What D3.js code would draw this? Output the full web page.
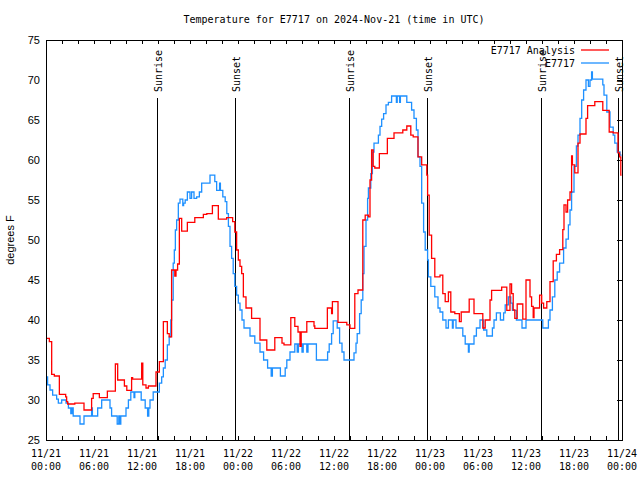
<!DOCTYPE html>
<html>
<head>
<meta charset="utf-8">
<script src="https://cdn.jsdelivr.net/npm/d3@7"></script>
<style>
  body { margin: 0; background: #fff; }
  svg { display: block; }
  .mono { font-family: "DejaVu Sans Mono", monospace; font-size: 10px; }
  .sans { font-family: "Liberation Sans", Arial, sans-serif; font-size: 11px; }
</style>
</head>
<body>
<svg id="chart" width="640" height="480"></svg>
<script>
// Hours since 2024-11-21 00:00 UTC, step points
const analysisHours = [0, 0.42, 0.71, 1.04, 1.67, 2.46, 2.58, 2.71, 3.6, 4.75, 5.7, 5.9, 6.67, 7.67, 8.67, 8.96, 9.8, 10.1, 10.7, 10.83, 11.96, 12.1, 12.5, 12.8, 13.75, 14.17, 14.67, 15.17, 15.4, 15.7, 16.1, 16.25, 16.45, 16.67, 16.96, 17.67, 18.6, 19.67, 20.1, 20.8, 21.54, 22.58, 23.33, 23.6, 23.83, 24.04, 24.25, 24.46, 24.67, 25.0, 25.7, 26.75, 27.6, 28.6, 29.5, 29.75, 30.6, 31.1, 31.5, 31.75, 31.9, 32.6, 33.5, 33.6, 35.17, 35.7, 35.8, 36.5, 37.6, 38.0, 38.6, 39.0, 39.6, 39.9, 40.3, 40.5, 40.7, 40.9, 41.1, 41.67, 42.67, 43.5, 44.6, 45.1, 45.6, 45.9, 46.5, 46.96, 47.6, 47.7, 47.9, 48.2, 48.6, 49.25, 49.6, 49.9, 50.3, 50.6, 51.1, 51.67, 51.9, 52.9, 53.5, 54.6, 54.9, 55.5, 55.7, 56.96, 57.6, 58.0, 58.2, 58.4, 58.6, 58.9, 59.6, 60.0, 60.5, 60.7, 60.9, 61.0, 61.7, 61.96, 62.2, 62.6, 63.0, 63.4, 63.8, 64.2, 64.6, 64.75, 65.0, 65.2, 65.5, 65.7, 65.8, 66.1, 66.5, 66.75, 67.5, 67.7, 68.6, 69.6, 70.4, 70.9, 71.5, 71.7, 71.85, 71.95];
const analysisTemps = [37.7, 37.3, 33.2, 33.0, 30.7, 30.4, 29.8, 29.5, 29.6, 28.75, 30.2, 30.8, 30.3, 31.1, 34.5, 32.5, 31.75, 31.2, 32.8, 32.6, 34.6, 31.9, 31.5, 31.75, 33.5, 34.8, 39.8, 38.3, 37.9, 46.25, 45.5, 46.25, 47, 52.7, 51.1, 52.2, 52.8, 53.2, 53.3, 54.3, 52.6, 52.8, 52.3, 51.0, 48.75, 47.5, 46.7, 45.8, 42.9, 41.5, 40.2, 37.5, 36.25, 37.8, 37.1, 36.9, 40.3, 39.2, 38.5, 36.7, 38.5, 39.8, 39.25, 38.95, 41.5, 40.8, 42.3, 39.7, 39.4, 38.95, 43.3, 43.75, 52.5, 53.1, 52.9, 57.5, 61.25, 59.2, 59.0, 60.8, 62.7, 63.4, 63.75, 64.25, 63.1, 62.9, 60.4, 59.4, 58.1, 55.6, 50.6, 47.7, 45.4, 45.6, 43.3, 42.3, 43.5, 41.0, 40.8, 39.8, 41.0, 42.6, 40.8, 39.0, 40.0, 42.5, 43.7, 44.1, 41.2, 44.5, 43.3, 41.25, 40.2, 42.0, 40.1, 45.0, 42.9, 41.7, 40.3, 41.5, 43.1, 42.1, 41.5, 42.3, 44.8, 47.4, 48.2, 48.8, 51.3, 54.4, 53.5, 55.0, 56.0, 60.5, 59.4, 58.4, 62.1, 63.25, 65.2, 66.8, 67.3, 66.2, 63.5, 63.4, 60.9, 60.4, 58.1, 58.1];

const obsHours = [0, 0.2, 0.5, 0.83, 1.33, 1.54, 1.96, 2.5, 2.8, 3.1, 3.25, 3.4, 4.25, 4.75, 5.7, 5.8, 6.46, 6.96, 8.0, 8.2, 8.9, 9.1, 9.2, 9.35, 10.0, 10.3, 10.6, 11.0, 11.1, 11.9, 12.4, 12.7, 12.85, 13.0, 13.4, 14.17, 14.46, 14.67, 14.9, 15.17, 15.4, 15.6, 15.7, 15.9, 16.04, 16.17, 16.33, 16.54, 16.75, 17.1, 17.2, 17.4, 17.67, 18.0, 18.2, 18.5, 18.83, 19.17, 19.46, 20.5, 21.1, 21.33, 21.7, 21.8, 22.1, 22.4, 22.6, 22.8, 23.0, 23.2, 23.4, 23.6, 23.83, 24.04, 24.25, 24.5, 24.75, 25.5, 26.1, 26.75, 27.2, 27.7, 28.15, 28.3, 29.3, 29.9, 30.1, 30.5, 31.1, 31.4, 31.55, 32.0, 32.15, 32.6, 32.75, 33.8, 35.2, 35.4, 35.7, 35.9, 36.4, 36.7, 37.0, 37.25, 38.5, 38.75, 38.9, 39.2, 39.4, 39.6, 39.75, 40.0, 40.2, 40.3, 40.6, 40.8, 41.0, 41.55, 41.75, 41.96, 42.2, 42.5, 42.8, 43.2, 43.8, 43.9, 44.2, 44.3, 45.1, 45.7, 46.0, 46.3, 46.5, 46.75, 46.96, 47.2, 47.4, 47.7, 47.8, 48.1, 48.6, 49.0, 49.25, 49.6, 50.0, 50.3, 50.8, 50.9, 51.25, 52.1, 52.4, 52.8, 52.9, 53.5, 53.8, 54.25, 54.7, 55.1, 55.8, 56.0, 56.3, 56.8, 57.2, 57.4, 57.8, 58.1, 58.3, 58.8, 59.5, 60.0, 62.1, 62.8, 63.0, 63.3, 63.6, 63.9, 64.2, 64.7, 65.0, 65.3, 65.5, 65.7, 66.0, 66.3, 66.5, 66.75, 66.96, 67.2, 67.5, 67.8, 68.0, 68.2, 68.3, 69.6, 69.75, 70.1, 70.5, 70.9, 71.1, 71.4, 71.75, 71.95];
const obsTemps = [32.9, 31.9, 31.25, 30.6, 30.1, 29.6, 30.0, 29.6, 29.0, 28.3, 29.0, 28.0, 27.0, 28.0, 29.0, 28.0, 29.0, 30.0, 29.0, 28.0, 27.0, 28.0, 27.0, 28.0, 29.0, 30.0, 31.0, 30.3, 31.0, 30.0, 29.0, 28.0, 29.0, 30.0, 31.0, 32.1, 32.9, 34.0, 35.0, 36.9, 37.9, 40.0, 42.5, 47.1, 48.75, 51.25, 52.5, 54.6, 55.1, 54.3, 54.6, 55.0, 56.0, 55.2, 56.0, 55.2, 55.4, 56.0, 57.1, 58.1, 57.3, 56.2, 57.1, 56.2, 55.4, 54.8, 53.3, 51.7, 49.2, 47.7, 45.8, 44.2, 43.1, 42.1, 41.25, 40.0, 39.0, 38.0, 37.1, 36.0, 35.0, 34.0, 33.0, 34.0, 33.0, 34.0, 35.0, 36.0, 37.0, 36.0, 37.0, 36.0, 37.0, 36.0, 37.0, 35.0, 36.0, 37.0, 38.3, 39.9, 39.0, 37.1, 36.0, 35.0, 35.9, 37.1, 38.3, 40.8, 42.5, 45.8, 49.2, 52.5, 55.2, 56.5, 58.3, 61.0, 62.1, 63.1, 64.2, 65.1, 65.8, 66.9, 67.2, 68.0, 67.2, 68.0, 67.2, 68.0, 67.2, 66.25, 65.2, 63.75, 60.4, 59.2, 54.6, 51.0, 48.75, 47.5, 45.4, 44.2, 42.9, 41.5, 41.0, 40.0, 39.0, 40.0, 39.0, 40.0, 39.0, 38.0, 37.0, 36.0, 37.0, 38.0, 39.0, 40.0, 38.75, 38.0, 39.0, 40.0, 40.9, 40.0, 40.9, 41.9, 42.9, 42.1, 41.2, 40.0, 39.0, 40.0, 39.0, 40.0, 41.25, 42.9, 45.0, 46.0, 47.1, 49.0, 50.1, 51.9, 53.75, 56.0, 59.2, 61.75, 63.1, 65.2, 67.5, 68.75, 70.0, 69.2, 70.0, 71.0, 70.1, 69.4, 68.1, 66.0, 64.1, 63.1, 62.1, 61.0, 60.6, 60.6];

const sunriseHours = [13.875, 37.875, 61.875];
const sunsetHours = [23.625, 47.625, 71.5];

const xTickDays = ['11/21', '11/21', '11/21', '11/21', '11/22', '11/22', '11/22', '11/22', '11/23', '11/23', '11/23', '11/23', '11/24'];
const xTickTimes = ['00:00', '06:00', '12:00', '18:00', '00:00', '06:00', '12:00', '18:00', '00:00', '06:00', '12:00', '18:00', '00:00'];
const yTicks = [25, 30, 35, 40, 45, 50, 55, 60, 65, 70, 75];

const svg = d3.select('#chart');
const plotLeft = 46, plotRight = 622, plotTop = 40, plotBottom = 440;

const x = d3.scaleLinear().domain([0, 72]).range([plotLeft, plotRight]);
const y = d3.scaleLinear().domain([25, 75]).range([plotBottom, plotTop]);

// Title
svg.append('text')
    .attr('class', 'mono')
    .attr('x', 334).attr('y', 23)
    .attr('text-anchor', 'middle')
    .text('Temperature for E7717 on 2024-Nov-21 (time in UTC)');

// Y axis label
svg.append('text')
    .attr('class', 'sans')
    .attr('transform', 'translate(14,240) rotate(-90)')
    .attr('text-anchor', 'middle')
    .text('degrees F');

// Y tick labels
svg.append('g').selectAll('text')
    .data(yTicks)
    .join('text')
    .attr('class', 'sans')
    .attr('x', 40)
    .attr('y', d => y(d) + 4)
    .attr('text-anchor', 'end')
    .text(d => d);

// Y ticks on the right edge
svg.append('g').selectAll('line')
    .data(yTicks)
    .join('line')
    .attr('x1', plotRight - 5).attr('x2', plotRight)
    .attr('y1', d => Math.round(y(d)) + 0.5)
    .attr('y2', d => Math.round(y(d)) + 0.5)
    .attr('stroke', '#000');

// X ticks every 2 hours, top and bottom
const xTickHours = d3.range(0, 73, 2);
const tg = svg.append('g').attr('stroke', '#000');
tg.selectAll('line.b')
    .data(xTickHours)
    .join('line')
    .attr('class', 'b')
    .attr('x1', d => Math.round(x(d)) + 0.5).attr('x2', d => Math.round(x(d)) + 0.5)
    .attr('y1', plotBottom - 4).attr('y2', plotBottom);
tg.selectAll('line.t')
    .data(xTickHours)
    .join('line')
    .attr('class', 't')
    .attr('x1', d => Math.round(x(d)) + 0.5).attr('x2', d => Math.round(x(d)) + 0.5)
    .attr('y1', plotTop).attr('y2', plotTop + 4);

// X tick labels
const xl = svg.append('g').selectAll('g')
    .data(xTickDays.map((d, i) => ({ day: d, time: xTickTimes[i], h: i * 6 })))
    .join('g');
xl.append('text')
    .attr('class', 'mono')
    .attr('x', d => x(d.h)).attr('y', 457)
    .attr('text-anchor', 'middle')
    .text(d => d.day);
xl.append('text')
    .attr('class', 'mono')
    .attr('x', d => x(d.h)).attr('y', 470)
    .attr('text-anchor', 'middle')
    .text(d => d.time);

// Sunrise / sunset markers
const sun = sunriseHours.map(h => ({ h, label: 'Sunrise' }))
    .concat(sunsetHours.map(h => ({ h, label: 'Sunset' })));
const sg = svg.append('g').selectAll('g').data(sun).join('g');
sg.append('line')
    .attr('x1', d => Math.round(x(d.h)) + 0.5).attr('x2', d => Math.round(x(d.h)) + 0.5)
    .attr('y1', 98).attr('y2', plotBottom)
    .attr('stroke', '#000');
sg.append('text')
    .attr('class', 'mono')
    .attr('transform', d => `translate(${Math.round(x(d.h)) + 5},92) rotate(-90)`)
    .attr('text-anchor', 'start')
    .text(d => d.label);

// Clip for data lines
svg.append('clipPath').attr('id', 'plotClip')
    .append('rect')
    .attr('x', plotLeft).attr('y', plotTop)
    .attr('width', plotRight - plotLeft).attr('height', plotBottom - plotTop);

const line = d3.line()
    .x(d => x(d[0]))
    .y(d => y(d[1]))
    .curve(d3.curveStepAfter);

const obsData = obsHours.map((h, i) => [h, obsTemps[i]]);
const anaData = analysisHours.map((h, i) => [h, analysisTemps[i]]);

svg.append('path')
    .datum(obsData)
    .attr('clip-path', 'url(#plotClip)')
    .attr('fill', 'none')
    .attr('stroke', '#1e90ff')
    .attr('stroke-width', 1.3)
    .attr('d', line);

svg.append('path')
    .datum(anaData)
    .attr('clip-path', 'url(#plotClip)')
    .attr('fill', 'none')
    .attr('stroke', '#ff0000')
    .attr('stroke-width', 1.3)
    .attr('d', line);

// Frame
svg.append('rect')
    .attr('x', plotLeft + 0.5).attr('y', plotTop + 0.5)
    .attr('width', plotRight - plotLeft).attr('height', plotBottom - plotTop)
    .attr('fill', 'none')
    .attr('stroke', '#000');

// Legend
const legend = [
    { name: 'E7717 Analysis', color: '#ff0000', y: 50 },
    { name: 'E7717', color: '#1e90ff', y: 63 }
];
const lg = svg.append('g').selectAll('g').data(legend).join('g');
lg.append('text')
    .attr('class', 'mono')
    .attr('x', 575).attr('y', d => d.y + 4)
    .attr('text-anchor', 'end')
    .text(d => d.name);
lg.append('line')
    .attr('x1', 581).attr('x2', 609)
    .attr('y1', d => d.y).attr('y2', d => d.y)
    .attr('stroke', d => d.color)
    .attr('stroke-width', 1.3);
</script>
</body>
</html>
